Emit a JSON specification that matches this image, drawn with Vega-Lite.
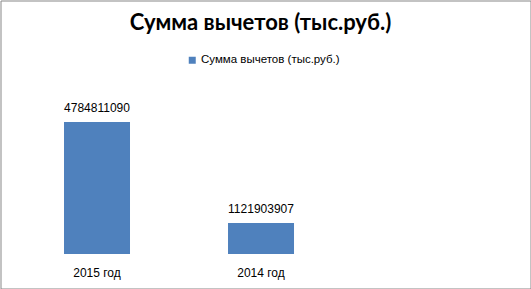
{
  "$schema": "https://vega.github.io/schema/vega-lite/v6.json",
  "width": 530,
  "height": 288,
  "padding": {"left": 0.5, "top": 0.5, "right": 0.5, "bottom": 0.5},
  "autosize": {"type": "none"},
  "background": "white",
  "title": {
    "text": "Сумма вычетов (тыс.руб.)",
    "font": "Lato",
    "fontSize": 22,
    "fontWeight": "bold",
    "color": "#000000",
    "anchor": "middle",
    "frame": "group",
    "offset": -34,
    "dx": -5
  },
  "data": {
    "values": [
      {"year": "2015 год", "value": 4784811090, "series": "Сумма вычетов (тыс.руб.)"},
      {"year": "2014 год", "value": 1121903907, "series": "Сумма вычетов (тыс.руб.)"}
    ]
  },
  "encoding": {
    "x": {
      "field": "year",
      "type": "nominal",
      "sort": null,
      "title": null,
      "scale": {"paddingInner": 0.5976, "paddingOuter": 0.9146, "align": 0.2117},
      "axis": {
        "orient": "bottom",
        "offset": -34,
        "domain": false,
        "ticks": false,
        "grid": false,
        "labelAngle": 0,
        "labelPadding": 13,
        "labelFont": "Liberation Sans",
        "labelFontSize": 12,
        "labelColor": "#000000"
      }
    },
    "y": {
      "field": "value",
      "type": "quantitative",
      "scale": {"domain": [-1250600000, 9189000000], "nice": false, "zero": false},
      "axis": null
    }
  },
  "layer": [
    {
      "mark": {"type": "bar", "color": "#4F81BD"},
      "encoding": {
        "y2": {"datum": 0},
        "color": {
          "field": "series",
          "type": "nominal",
          "scale": {"range": ["#4F81BD"]},
          "legend": {
            "title": null,
            "orient": "none",
            "legendX": 186,
            "legendY": 54,
            "symbolType": "square",
            "symbolSize": 49,
            "symbolStrokeWidth": 0,
            "labelFont": "Liberation Sans",
            "labelFontSize": 11.5,
            "labelColor": "#000000",
            "labelOffset": 3
          }
        }
      }
    },
    {
      "mark": {
        "type": "text",
        "baseline": "alphabetic",
        "dy": -10,
        "font": "Liberation Sans",
        "fontSize": 12,
        "color": "#000000"
      },
      "encoding": {
        "text": {"field": "value", "type": "quantitative", "format": "d"}
      }
    }
  ],
  "config": {
    "view": {"stroke": "#878787", "strokeWidth": 1}
  }
}
